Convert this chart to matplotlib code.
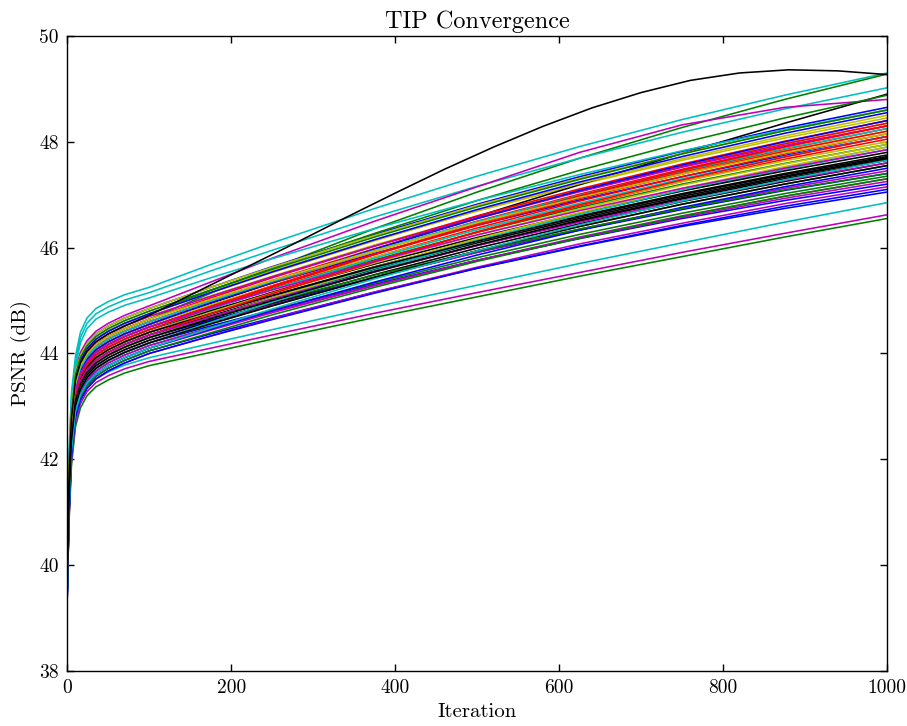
import matplotlib
matplotlib.use("Agg")
import matplotlib.pyplot as plt

plt.rcParams['font.family'] = ['cmr10', 'DejaVu Serif']
plt.rcParams['mathtext.fontset'] = 'cm'
plt.rcParams['axes.formatter.use_mathtext'] = True

iterations = [0, 2, 5, 10, 16, 24, 35, 50, 70, 100, 175, 250, 375, 500, 625, 750, 875, 1000]

blue_runs = [
    [40.00, 41.50, 42.65, 43.40, 43.72, 43.94, 44.12, 44.27, 44.42, 44.60, 44.97, 45.33, 45.89, 46.42, 46.90, 47.34, 47.74, 48.10],
    [39.70, 41.20, 42.35, 43.10, 43.42, 43.64, 43.82, 43.97, 44.12, 44.30, 44.63, 44.94, 45.44, 45.91, 46.33, 46.72, 47.08, 47.40],
    [40.25, 41.75, 42.90, 43.65, 43.97, 44.19, 44.37, 44.52, 44.67, 44.85, 45.25, 45.64, 46.25, 46.82, 47.34, 47.82, 48.26, 48.65],
    [39.60, 41.10, 42.25, 43.00, 43.32, 43.54, 43.72, 43.87, 44.02, 44.20, 44.52, 44.82, 45.31, 45.76, 46.17, 46.55, 46.89, 47.20],
    [39.45, 40.95, 42.10, 42.85, 43.17, 43.39, 43.57, 43.72, 43.87, 44.05, 44.37, 44.67, 45.16, 45.61, 46.02, 46.40, 46.74, 47.05],
    [40.15, 41.65, 42.80, 43.55, 43.87, 44.09, 44.27, 44.42, 44.57, 44.75, 45.15, 45.54, 46.15, 46.72, 47.24, 47.72, 48.16, 48.55],
    [39.50, 41.00, 42.15, 42.90, 43.22, 43.44, 43.62, 43.77, 43.92, 44.10, 44.46, 44.81, 45.35, 45.86, 46.33, 46.76, 47.15, 47.50],
    [39.95, 41.45, 42.60, 43.35, 43.67, 43.89, 44.07, 44.22, 44.37, 44.55, 44.96, 45.35, 45.97, 46.55, 47.08, 47.56, 48.00, 48.40],
    [39.40, 40.90, 42.05, 42.80, 43.12, 43.34, 43.52, 43.67, 43.82, 44.00, 44.33, 44.64, 45.14, 45.61, 46.03, 46.42, 46.78, 47.10],
]
green_runs = [
    [39.57, 40.77, 41.87, 42.62, 42.97, 43.20, 43.37, 43.50, 43.63, 43.77, 44.02, 44.27, 44.68, 45.07, 45.46, 45.83, 46.20, 46.55],
    [40.05, 41.55, 42.70, 43.45, 43.77, 43.99, 44.17, 44.32, 44.47, 44.65, 45.14, 45.61, 46.36, 47.05, 47.69, 48.27, 48.80, 49.28],
    [40.15, 41.65, 42.80, 43.55, 43.87, 44.09, 44.27, 44.42, 44.57, 44.75, 45.19, 45.61, 46.27, 46.89, 47.46, 47.98, 48.45, 48.88],
    [39.90, 41.40, 42.55, 43.30, 43.62, 43.84, 44.02, 44.17, 44.32, 44.50, 44.87, 45.22, 45.77, 46.29, 46.76, 47.20, 47.59, 47.95],
    [39.55, 41.05, 42.20, 42.95, 43.27, 43.49, 43.67, 43.82, 43.97, 44.15, 44.49, 44.82, 45.33, 45.81, 46.25, 46.65, 47.02, 47.35],
    [39.60, 41.10, 42.25, 43.00, 43.32, 43.54, 43.72, 43.87, 44.02, 44.20, 44.56, 44.90, 45.44, 45.94, 46.40, 46.82, 47.20, 47.55],
    [39.75, 41.25, 42.40, 43.15, 43.47, 43.69, 43.87, 44.02, 44.17, 44.35, 44.67, 44.98, 45.48, 45.93, 46.35, 46.74, 47.09, 47.40],
    [39.45, 40.95, 42.10, 42.85, 43.17, 43.39, 43.57, 43.72, 43.87, 44.05, 44.39, 44.73, 45.25, 45.74, 46.18, 46.59, 46.97, 47.30],
    [40.20, 41.70, 42.85, 43.60, 43.92, 44.14, 44.32, 44.47, 44.62, 44.80, 45.20, 45.59, 46.20, 46.77, 47.29, 47.77, 48.21, 48.60],
]
red_runs = [
    [39.95, 41.45, 42.60, 43.35, 43.67, 43.89, 44.07, 44.22, 44.37, 44.55, 44.95, 45.33, 45.93, 46.50, 47.01, 47.48, 47.91, 48.30],
    [39.85, 41.35, 42.50, 43.25, 43.57, 43.79, 43.97, 44.12, 44.27, 44.45, 44.84, 45.22, 45.82, 46.37, 46.88, 47.34, 47.77, 48.15],
    [40.05, 41.55, 42.70, 43.45, 43.77, 43.99, 44.17, 44.32, 44.47, 44.65, 45.05, 45.43, 46.03, 46.60, 47.11, 47.58, 48.01, 48.40],
    [39.90, 41.40, 42.55, 43.30, 43.62, 43.84, 44.02, 44.17, 44.32, 44.50, 44.90, 45.28, 45.88, 46.45, 46.96, 47.43, 47.86, 48.25],
    [39.80, 41.30, 42.45, 43.20, 43.52, 43.74, 43.92, 44.07, 44.22, 44.40, 44.79, 45.16, 45.75, 46.29, 46.79, 47.25, 47.67, 48.05],
    [40.00, 41.50, 42.65, 43.40, 43.72, 43.94, 44.12, 44.27, 44.42, 44.60, 45.00, 45.38, 45.98, 46.55, 47.06, 47.53, 47.96, 48.35],
    [39.90, 41.40, 42.55, 43.30, 43.62, 43.84, 44.02, 44.17, 44.32, 44.50, 44.89, 45.27, 45.87, 46.42, 46.93, 47.39, 47.82, 48.20],
    [39.75, 41.25, 42.40, 43.15, 43.47, 43.69, 43.87, 44.02, 44.17, 44.35, 44.75, 45.13, 45.73, 46.30, 46.81, 47.28, 47.71, 48.10],
    [39.85, 41.35, 42.50, 43.25, 43.57, 43.79, 43.97, 44.12, 44.27, 44.45, 44.86, 45.25, 45.87, 46.45, 46.98, 47.46, 47.90, 48.30],
]
cyan_runs = [
    [40.30, 42.05, 43.25, 43.95, 44.40, 44.67, 44.85, 44.98, 45.11, 45.25, 45.68, 46.09, 46.74, 47.35, 47.91, 48.42, 48.88, 49.30],
    [40.20, 41.95, 43.15, 43.85, 44.30, 44.57, 44.75, 44.88, 45.01, 45.15, 45.56, 45.95, 46.58, 47.16, 47.69, 48.18, 48.62, 49.02],
    [40.10, 41.85, 43.05, 43.75, 44.20, 44.47, 44.65, 44.78, 44.91, 45.05, 45.43, 45.79, 46.36, 46.89, 47.38, 47.83, 48.23, 48.60],
    [39.72, 40.92, 42.02, 42.77, 43.12, 43.35, 43.52, 43.65, 43.78, 43.92, 44.19, 44.45, 44.88, 45.29, 45.70, 46.09, 46.48, 46.85],
    [39.70, 41.20, 42.35, 43.10, 43.42, 43.64, 43.82, 43.97, 44.12, 44.30, 44.68, 45.04, 45.61, 46.14, 46.63, 47.08, 47.48, 47.85],
    [39.85, 41.35, 42.50, 43.25, 43.57, 43.79, 43.97, 44.12, 44.27, 44.45, 44.84, 45.21, 45.80, 46.34, 46.84, 47.30, 47.72, 48.10],
    [39.60, 41.10, 42.25, 43.00, 43.32, 43.54, 43.72, 43.87, 44.02, 44.20, 44.59, 44.97, 45.57, 46.12, 46.63, 47.09, 47.52, 47.90],
    [40.00, 41.50, 42.65, 43.40, 43.72, 43.94, 44.12, 44.27, 44.42, 44.60, 44.99, 45.36, 45.95, 46.49, 46.99, 47.45, 47.87, 48.25],
    [39.50, 41.00, 42.15, 42.90, 43.22, 43.44, 43.62, 43.77, 43.92, 44.10, 44.48, 44.84, 45.41, 45.94, 46.43, 46.88, 47.28, 47.65],
]
magenta_runs = [
    [39.65, 40.85, 41.95, 42.70, 43.05, 43.28, 43.45, 43.58, 43.71, 43.85, 44.10, 44.35, 44.76, 45.15, 45.53, 45.91, 46.27, 46.62],
    [40.30, 41.80, 42.95, 43.70, 44.02, 44.24, 44.42, 44.57, 44.72, 44.90, 45.35, 45.80, 46.50, 47.15, 47.80, 48.32, 48.65, 48.80],
    [39.50, 41.00, 42.15, 42.90, 43.22, 43.44, 43.62, 43.77, 43.92, 44.10, 44.44, 44.77, 45.28, 45.76, 46.20, 46.60, 46.97, 47.30],
    [39.65, 41.15, 42.30, 43.05, 43.37, 43.59, 43.77, 43.92, 44.07, 44.25, 44.59, 44.92, 45.43, 45.91, 46.35, 46.75, 47.12, 47.45],
    [39.40, 40.90, 42.05, 42.80, 43.12, 43.34, 43.52, 43.67, 43.82, 44.00, 44.33, 44.66, 45.16, 45.63, 46.07, 46.46, 46.83, 47.15],
    [39.55, 41.05, 42.20, 42.95, 43.27, 43.49, 43.67, 43.82, 43.97, 44.15, 44.48, 44.79, 45.29, 45.76, 46.18, 46.57, 46.93, 47.25],
    [40.10, 41.60, 42.75, 43.50, 43.82, 44.04, 44.22, 44.37, 44.52, 44.70, 45.08, 45.45, 46.03, 46.57, 47.06, 47.52, 47.93, 48.30],
    [39.75, 41.25, 42.40, 43.15, 43.47, 43.69, 43.87, 44.02, 44.17, 44.35, 44.69, 45.03, 45.55, 46.04, 46.48, 46.89, 47.27, 47.60],
    [39.90, 41.40, 42.55, 43.30, 43.62, 43.84, 44.02, 44.17, 44.32, 44.50, 44.86, 45.20, 45.74, 46.24, 46.70, 47.12, 47.50, 47.85],
]
yellow_runs = [
    [40.10, 41.60, 42.75, 43.50, 43.82, 44.04, 44.22, 44.37, 44.52, 44.70, 45.09, 45.46, 46.05, 46.59, 47.09, 47.55, 47.97, 48.35],
    [40.20, 41.70, 42.85, 43.60, 43.92, 44.14, 44.32, 44.47, 44.62, 44.80, 45.19, 45.56, 46.15, 46.69, 47.19, 47.65, 48.07, 48.45],
    [40.00, 41.50, 42.65, 43.40, 43.72, 43.94, 44.12, 44.27, 44.42, 44.60, 44.98, 45.35, 45.93, 46.47, 46.96, 47.42, 47.83, 48.20],
    [40.15, 41.65, 42.80, 43.55, 43.87, 44.09, 44.27, 44.42, 44.57, 44.75, 45.15, 45.53, 46.13, 46.70, 47.21, 47.68, 48.11, 48.50],
    [39.95, 41.45, 42.60, 43.35, 43.67, 43.89, 44.07, 44.22, 44.37, 44.55, 44.92, 45.27, 45.82, 46.34, 46.81, 47.25, 47.64, 48.00],
    [39.80, 41.30, 42.45, 43.20, 43.52, 43.74, 43.92, 44.07, 44.22, 44.40, 44.78, 45.14, 45.71, 46.24, 46.73, 47.18, 47.58, 47.95],
    [39.70, 41.20, 42.35, 43.10, 43.42, 43.64, 43.82, 43.97, 44.12, 44.30, 44.68, 45.05, 45.63, 46.17, 46.66, 47.12, 47.53, 47.90],
    [40.25, 41.75, 42.90, 43.65, 43.97, 44.19, 44.37, 44.52, 44.67, 44.85, 45.25, 45.63, 46.23, 46.80, 47.31, 47.78, 48.21, 48.60],
    [40.05, 41.55, 42.70, 43.45, 43.77, 43.99, 44.17, 44.32, 44.47, 44.65, 45.02, 45.38, 45.94, 46.47, 46.95, 47.39, 47.79, 48.15],
]
black_runs = [
    [39.80, 41.30, 42.45, 43.20, 43.52, 43.74, 43.92, 44.07, 44.22, 44.40, 44.76, 45.10, 45.64, 46.14, 46.60, 47.02, 47.40, 47.75],
    [39.95, 41.45, 42.60, 43.35, 43.67, 43.89, 44.07, 44.22, 44.37, 44.55, 44.95, 45.34, 45.97, 46.59, 47.19, 47.78, 48.35, 48.90],
    [39.75, 41.25, 42.40, 43.15, 43.47, 43.69, 43.87, 44.02, 44.17, 44.35, 44.71, 45.05, 45.59, 46.09, 46.55, 46.97, 47.35, 47.70],
    [39.70, 41.20, 42.35, 43.10, 43.42, 43.64, 43.82, 43.97, 44.12, 44.30, 44.66, 45.00, 45.54, 46.04, 46.50, 46.92, 47.30, 47.65],
    [39.85, 41.35, 42.50, 43.25, 43.57, 43.79, 43.97, 44.12, 44.27, 44.45, 44.81, 45.15, 45.69, 46.19, 46.65, 47.07, 47.45, 47.80],
    [39.65, 41.15, 42.30, 43.05, 43.37, 43.59, 43.77, 43.92, 44.07, 44.25, 44.61, 44.95, 45.49, 45.99, 46.45, 46.87, 47.25, 47.60],
    [39.80, 41.30, 42.45, 43.20, 43.52, 43.74, 43.92, 44.07, 44.22, 44.40, 44.75, 45.09, 45.63, 46.12, 46.58, 47.00, 47.38, 47.72],
    [39.60, 41.10, 42.25, 43.00, 43.32, 43.54, 43.72, 43.87, 44.02, 44.20, 44.56, 44.90, 45.44, 45.94, 46.40, 46.82, 47.20, 47.55],
    [39.70, 41.20, 42.35, 43.10, 43.42, 43.64, 43.82, 43.97, 44.12, 44.30, 44.66, 45.00, 45.55, 46.05, 46.52, 46.94, 47.33, 47.68],
]

# the single black run that arches above all others
arch_iterations = [0, 2, 5, 10, 16, 24, 35, 50, 70, 100, 160, 220, 280, 340, 400, 460,
                   520, 580, 640, 700, 760, 820, 880, 940, 1000]
arch_psnr = [40.10, 41.60, 42.75, 43.50, 43.82, 44.04, 44.22, 44.37, 44.52, 44.72, 45.18,
             45.64, 46.10, 46.57, 47.03, 47.48, 47.90, 48.29, 48.64, 48.93, 49.16, 49.30,
             49.36, 49.34, 49.27]

title = "TIP Convergence"
xlabel = "Iteration"
ylabel = "PSNR (dB)"
xticks = [0, 200, 400, 600, 800, 1000]
yticks = [38, 40, 42, 44, 46, 48, 50]

groups = [("b", blue_runs), ("g", green_runs), ("r", red_runs), ("c", cyan_runs),
          ("m", magenta_runs), ("y", yellow_runs), ("k", black_runs)]
color_map = {"b": (0, 0, 1), "g": (0, 0.5, 0), "r": (1, 0, 0), "c": (0, 0.75, 0.75),
             "m": (0.75, 0, 0.75), "y": (0.75, 0.75, 0), "k": (0, 0, 0)}

fig = plt.figure(figsize=(9.07, 7.26), dpi=100)
ax = fig.add_axes([0.0742, 0.0758, 0.9038, 0.8747])

n_runs = len(blue_runs)
for i in range(n_runs):
    for key, runs in groups:
        ax.plot(iterations, runs[i], color=color_map[key], lw=1.15)
ax.plot(arch_iterations, arch_psnr, color="k", lw=1.15)

ax.set_xlim(0, 1000)
ax.set_ylim(38, 50)
ax.set_xticks(xticks)
ax.set_yticks(yticks)
ax.set_xticklabels([str(v) for v in xticks])
ax.set_yticklabels([str(v) for v in yticks])
ax.tick_params(direction="in", top=True, right=True, length=5, width=1,
               labelsize=14, pad=6)
for sp in ax.spines.values():
    sp.set_linewidth(1.0)
ax.set_title(title, fontsize=17.5, pad=6)
ax.set_xlabel(xlabel, fontsize=15, labelpad=4)
ax.set_ylabel(ylabel, fontsize=15, labelpad=6)

fig.savefig("out.png", dpi=100)
